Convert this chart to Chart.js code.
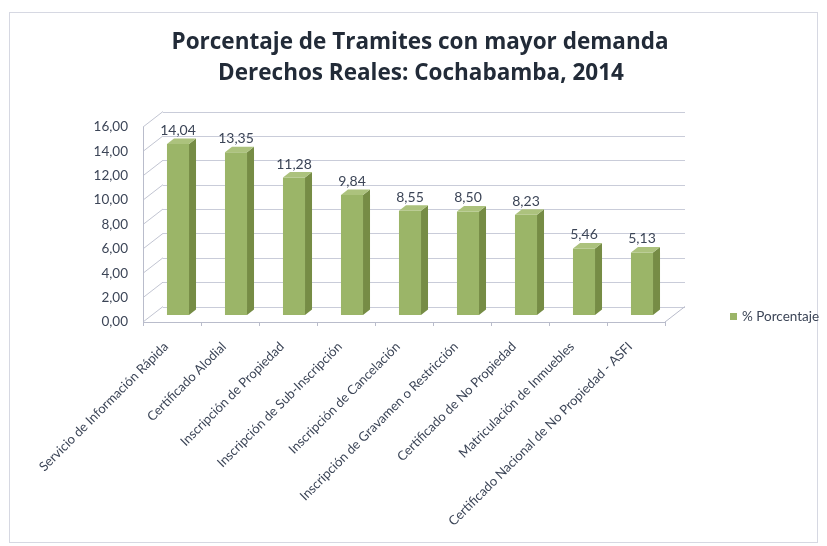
<!DOCTYPE html>
<html>
<head>
<meta charset="utf-8">
<script src="https://cdn.jsdelivr.net/npm/chart.js@4.4.1/dist/chart.umd.min.js"></script>
<style>
  html, body { margin: 0; padding: 0; background: #ffffff; }
  #wrap { width: 827px; height: 546px; position: relative; }
</style>
</head>
<body>
<div id="wrap"><canvas id="c" width="827" height="546"></canvas></div>
<script>
const titleLines = ["Porcentaje de Tramites con mayor demanda", "Derechos Reales: Cochabamba, 2014"];
const categories = [
  "Servicio de Información Rápida",
  "Certificado Alodial",
  "Inscripción de Propiedad",
  "Inscripción de Sub-Inscripción",
  "Inscripción de Cancelación",
  "Inscripción de Gravamen o Restricción",
  "Certificado de No Propiedad",
  "Matriculación de Inmuebles",
  "Certificado Nacional de No Propiedad - ASFI"
];
const seriesName = "% Porcentaje";
const porcentaje = [14.04, 13.35, 11.28, 9.84, 8.55, 8.50, 8.23, 5.46, 5.13];
const yTicks = [0, 2, 4, 6, 8, 10, 12, 14, 16];

const fmt = v => v.toFixed(2).replace('.', ',');
const FONT = "Lato, 'Open Sans', sans-serif";
const TEXT = '#3c4557';

// depth offsets relative to the bar front plane
const FRONT = { dx: -6, dy: 7 };
const BACK = { dx: 14, dy: -8.5 };
const BAR_DEPTH = { dx: 7, dy: -5.5 };

const decor = {
  id: 'decor',
  beforeDraw(chart) {
    const ctx = chart.ctx;
    ctx.save();
    ctx.fillStyle = '#ffffff';
    ctx.fillRect(0, 0, chart.width, chart.height);
    ctx.strokeStyle = '#d6d8e2';
    ctx.lineWidth = 1;
    ctx.strokeRect(9.5, 12.5, 808, 530);
    ctx.restore();
  },
  beforeDatasetsDraw(chart) {
    const ctx = chart.ctx;
    const ys = chart.scales.y;
    const area = chart.chartArea;
    const L = area.left, R = area.right;
    ctx.save();
    ctx.lineWidth = 1;
    yTicks.forEach(v => {
      const y = ys.getPixelForValue(v);
      ctx.strokeStyle = '#c9ccd9';
      ctx.beginPath();
      ctx.moveTo(L + BACK.dx, Math.round(y + BACK.dy) + 0.5);
      ctx.lineTo(R + BACK.dx, Math.round(y + BACK.dy) + 0.5);
      ctx.stroke();
      ctx.strokeStyle = '#c2c5d2';
      ctx.beginPath();
      ctx.moveTo(L + FRONT.dx, y + FRONT.dy);
      ctx.lineTo(L + BACK.dx, y + BACK.dy);
      ctx.stroke();
    });
    const yTop = ys.getPixelForValue(16), yBot = ys.getPixelForValue(0);
    ctx.strokeStyle = '#b9bccb';
    ctx.beginPath();
    ctx.moveTo(Math.round(L + FRONT.dx) + 0.5, yTop + FRONT.dy);
    ctx.lineTo(Math.round(L + FRONT.dx) + 0.5, yBot + FRONT.dy);
    ctx.stroke();
    ctx.beginPath();
    ctx.moveTo(L + FRONT.dx, Math.round(yBot + FRONT.dy) + 0.5);
    ctx.lineTo(R + FRONT.dx, Math.round(yBot + FRONT.dy) + 0.5);
    ctx.moveTo(R + FRONT.dx, yBot + FRONT.dy);
    ctx.lineTo(R + BACK.dx, yBot + BACK.dy);
    ctx.stroke();
    const xs = chart.scales.x;
    for (let i = 0; i <= categories.length; i++) {
      const x = Math.round(xs.getPixelForValue(i - 0.5) + FRONT.dx) + 0.5;
      ctx.beginPath();
      ctx.moveTo(x, yBot + FRONT.dy);
      ctx.lineTo(x, yBot + FRONT.dy + 4);
      ctx.stroke();
    }
    ctx.restore();
  },
  afterDatasetsDraw(chart) {
    const ctx = chart.ctx;
    const meta = chart.getDatasetMeta(0);
    ctx.save();
    meta.data.forEach((bar, i) => {
      const p = bar.getProps(['x', 'y', 'base', 'width'], true);
      const l = p.x - p.width / 2, r = p.x + p.width / 2;
      ctx.fillStyle = '#768c45';
      ctx.beginPath();
      ctx.moveTo(r, p.y);
      ctx.lineTo(r + BAR_DEPTH.dx, p.y + BAR_DEPTH.dy);
      ctx.lineTo(r + BAR_DEPTH.dx, p.base + BAR_DEPTH.dy);
      ctx.lineTo(r, p.base);
      ctx.closePath();
      ctx.fill();
      ctx.fillStyle = '#acc27d';
      ctx.beginPath();
      ctx.moveTo(l, p.y);
      ctx.lineTo(l + BAR_DEPTH.dx, p.y + BAR_DEPTH.dy);
      ctx.lineTo(r + BAR_DEPTH.dx, p.y + BAR_DEPTH.dy);
      ctx.lineTo(r, p.y);
      ctx.closePath();
      ctx.fill();
      ctx.fillStyle = TEXT;
      ctx.font = "14px " + FONT;
      ctx.textAlign = 'center';
      ctx.textBaseline = 'alphabetic';
      ctx.fillText(fmt(porcentaje[i]), p.x, p.y - 9);
    });
    ctx.restore();
  },
  afterDraw(chart) {
    const ctx = chart.ctx;
    const ds = chart.data.datasets[0];
    ctx.save();
    ctx.fillStyle = '#222b38';
    ctx.font = "bold 22.5px 'Open Sans', sans-serif";
    ctx.textAlign = 'center';
    ctx.textBaseline = 'alphabetic';
    ctx.fillText(titleLines[0], 420, 49);
    ctx.fillText(titleLines[1], 421, 80);
    ctx.fillStyle = ds.backgroundColor;
    ctx.fillRect(730, 313, 7, 7);
    ctx.fillStyle = TEXT;
    ctx.font = "13.5px " + FONT;
    ctx.textAlign = 'left';
    ctx.textBaseline = 'middle';
    ctx.fillText(ds.label, 742, 317);
    ctx.restore();
  }
};

new Chart(document.getElementById('c'), {
  type: 'bar',
  data: {
    labels: categories,
    datasets: [{
      label: seriesName,
      data: porcentaje,
      backgroundColor: '#9bb568',
      borderWidth: 0,
      categoryPercentage: 1.0,
      barPercentage: 0.38
    }]
  },
  options: {
    responsive: false,
    animation: false,
    devicePixelRatio: 1,
    layout: { padding: { left: 0, right: 156, top: 120, bottom: 0 } },
    plugins: {
      legend: { display: false },
      tooltip: { enabled: false },
      title: { display: false }
    },
    scales: {
      x: {
        grid: { display: false, drawTicks: false },
        border: { display: false },
        afterFit: s => { s.height = 231; },
        ticks: {
          autoSkip: false,
          minRotation: 45, maxRotation: 45,
          labelOffset: -12,
          padding: 24,
          color: TEXT,
          font: { family: FONT, size: 13 }
        }
      },
      y: {
        min: 0, max: 16,
        grid: { display: false, drawTicks: false },
        border: { display: false },
        afterFit: s => { s.width = 149; },
        afterBuildTicks: s => { s.ticks = yTicks.map(v => ({ value: v })); },
        ticks: {
          padding: 21,
          labelOffset: 7,
          color: TEXT,
          font: { family: FONT, size: 13.5 },
          callback: v => fmt(v)
        }
      }
    }
  },
  plugins: [decor]
});
</script>
</body>
</html>
